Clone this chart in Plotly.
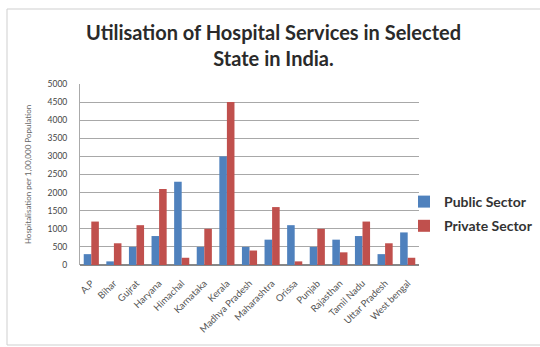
import plotly.graph_objects as go

states = ["A.P", "Bihar", "Gujrat", "Haryana", "Himachal", "Karnataka", "Kerala",
          "Madhya Pradesh", "Maharashtra", "Orissa", "Punjab", "Rajasthan",
          "Tamil Nadu", "Uttar Pradesh", "West bengal"]
public_sector = [300, 100, 500, 800, 2300, 500, 3000, 500, 700, 1100, 500, 700, 800, 300, 900]
private_sector = [1200, 600, 1100, 2100, 200, 1000, 4500, 400, 1600, 100, 1000, 350, 1200, 600, 200]
y_ticks = [0, 500, 1000, 1500, 2000, 2500, 3000, 3500, 4000, 4500, 5000]

fig = go.Figure()
fig.add_trace(go.Bar(x=states, y=public_sector, name="<b>Public Sector</b>", legendgroup="pub",
                     marker=dict(color="#4F81BD", line=dict(width=0))))
fig.add_trace(go.Bar(x=states, y=private_sector, name="<b>Private Sector</b>", legendgroup="pri",
                     marker=dict(color="#C0504D", line=dict(width=0))))

fig.update_layout(
    width=540, height=347,
    margin=dict(l=80, r=121, t=84, b=82, autoexpand=False),
    paper_bgcolor="white", plot_bgcolor="white",
    barmode="group", bargap=0.33, bargroupgap=0,
    font=dict(family="Lato", color="#444"),
    legend=dict(xref="container", yref="container", x=404 / 540, y=(347 - 214) / 347,
                xanchor="left", yanchor="middle",
                font=dict(size=14, color="#333", family="Lato"),
                tracegroupgap=3, itemwidth=30, bgcolor="rgba(0,0,0,0)"),
    xaxis=dict(tickangle=-45, tickfont=dict(size=9.5, color="#555"), automargin=False,
               showline=False, ticks="", showgrid=False, ticklabelstandoff=10),
    yaxis=dict(range=[0, 5000], tickvals=y_ticks, tickfont=dict(size=8.5, color="#444"),
               automargin=False,
               showgrid=True, gridcolor="#a8a8a8", gridwidth=1, ticklabelstandoff=10,
               showline=True, linecolor="#aaa", zeroline=True, zerolinecolor="#888",
               title=dict(text="Hospitalisation per 1,00,000 Population",
                          font=dict(size=8, color="#666"), standoff=14)),
    annotations=[dict(text="<b>Utilisation of Hospital Services in Selected<br>State in India.</b>",
                      xref="paper", yref="paper", x=(273 - 80) / 339, y=(265 - 45) / 181,
                      xanchor="center", yanchor="middle", showarrow=False,
                      font=dict(size=20, color="#2a2a2a", family="Lato"))],
    shapes=[dict(type="rect", xref="paper", yref="paper",
                 x0=-73/339, x1=600/339, y0=-80/181, y1=256/181,
                 line=dict(color="#cfcfcf", width=1), layer="below")],
)

fig.write_html("out.html")
